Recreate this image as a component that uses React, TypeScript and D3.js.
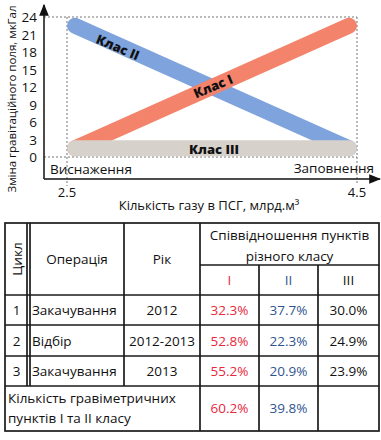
import React from "react";
import * as d3 from "d3";

const FONT = "'Open Sans', 'Noto Sans', sans-serif";

// Chart data
const xDomain = [2.5, 4.5];
const yTicks = [0, 3, 6, 9, 12, 15, 18, 21, 24];
const xTickLabels = ["2.5", "4.5"];
const bandNames = ["Клас II", "Клас I", "Клас III"];
const bandStartValues = [22.5, 1.5, 1.5];
const bandEndValues = [1.5, 22.5, 1.5];
const bandColors = ["#7fa3dc", "#f4836b", "#d6d1cb"];

// Table data
const cycles = ["1", "2", "3"];
const operations = ["Закачування", "Відбір", "Закачування"];
const years = ["2012", "2012-2013", "2013"];
const classI = ["32.3%", "52.8%", "55.2%"];
const classII = ["37.7%", "22.3%", "20.9%"];
const classIII = ["30.0%", "24.9%", "23.9%"];
const totalI = "60.2%";
const totalII = "39.8%";

export default function App() {
  const x = d3.scaleLinear().domain(xDomain).range([67, 357]);
  const y = d3.scaleLinear().domain([0, 24]).range([157, 17]);
  const sw = 16;
  const inset = sw / 2;
  const axisX = 44;
  const axisY = 179;
  const line = d3.line<[number, number]>();

  const labelPos = [
    { cx: 118, cy: 47 },
    { cx: 213, cy: 86 },
    { cx: 214, cy: 149 },
  ];

  // table geometry
  const tx = [5, 29, 124, 200, 259, 318, 379];
  const ty = [223, 265, 295, 325, 356, 386, 431];
  const red = "#e8283c";
  const blue = "#2f5590";
  const bc = "#1a1a1a";
  const bw = 1.7;

  return (
    <svg
      width={381}
      height={440}
      style={{ position: "absolute", left: 0, top: 0, fontFamily: FONT }}
    >
      <defs>
        <marker id="arr" viewBox="0 0 10 10" refX="9" refY="5" markerWidth="8" markerHeight="8" orient="auto">
          <path d="M0,1 L10,5 L0,9 z" fill="#111" />
        </marker>
      </defs>
      {/* dashed guides */}
      <g stroke="#777" strokeWidth={1} strokeDasharray="2,2" fill="none">
        <line x1={axisX} x2={x(4.5)} y1={y(24)} y2={y(24)} />
        <line x1={axisX} x2={x(4.5)} y1={y(0)} y2={y(0)} />
        <line x1={x(2.5)} x2={x(2.5)} y1={y(24)} y2={186} />
        <line x1={x(4.5)} x2={x(4.5)} y1={y(24)} y2={184} />
      </g>
      {/* bands */}
      {bandNames.map((n, i) => {
        const p: [number, number][] = [
          [x(xDomain[0]) + inset, y(bandStartValues[i])],
          [x(xDomain[1]) - inset, y(bandEndValues[i])],
        ];
        return (
          <path
            key={n}
            d={line(p) || ""}
            stroke={bandColors[i]}
            strokeWidth={sw}
            strokeLinecap="round"
            fill="none"
          />
        );
      })}
      {bandNames.map((n, i) => {
        const dx = x(xDomain[1]) - x(xDomain[0]);
        const dy = y(bandEndValues[i]) - y(bandStartValues[i]);
        const ang = (Math.atan2(dy, dx) * 180) / Math.PI;
        const { cx, cy } = labelPos[i];
        return (
          <text
            key={"l" + n}
            transform={`translate(${cx},${cy}) rotate(${ang})`}
            textAnchor="middle"
            dominantBaseline="central"
            fontSize={13}
            fontWeight={800}
            fill="#111"
          >
            {n}
          </text>
        );
      })}
      {/* axes */}
      <line x1={axisX} x2={axisX} y1={axisY} y2={5} stroke="#111" strokeWidth={1.5} markerEnd="url(#arr)" />
      <line x1={axisX} x2={380} y1={axisY} y2={axisY} stroke="#111" strokeWidth={1.5} markerEnd="url(#arr)" />
      {yTicks.map((t) => (
        <text key={t} x={37} y={y(t)} textAnchor="end" dominantBaseline="central" fontSize={13.5} fill="#111">
          {t}
        </text>
      ))}
      {xDomain.map((v, i) => (
        <text key={v} x={x(v)} y={192} textAnchor="middle" dominantBaseline="central" fontSize={13} fill="#111">
          {xTickLabels[i]}
        </text>
      ))}
      <text x={50} y={169} dominantBaseline="central" fontSize={13.5} fill="#111">Виснаження</text>
      <text x={374} y={168} textAnchor="end" dominantBaseline="central" fontSize={13.5} fill="#111">Заповнення</text>
      <text x={209} y={205} textAnchor="middle" dominantBaseline="central" fontSize={13} fill="#111">
        Кількість газу в ПСГ, млрд.м³
      </text>
      <text
        transform="translate(11,99) rotate(-90)"
        textAnchor="middle"
        dominantBaseline="central"
        fontSize={11.5}
        fill="#111"
      >
        Зміна гравітаційного поля, мкГал
      </text>

      {/* table */}
      <g stroke={bc} strokeWidth={bw} fill="none">
        <rect x={tx[0]} y={ty[0]} width={tx[6] - tx[0]} height={ty[6] - ty[0]} />
        <line x1={27} x2={27} y1={ty[0]} y2={ty[5]} />
        <line x1={30} x2={30} y1={ty[0]} y2={ty[5]} />
        <line x1={tx[2]} x2={tx[2]} y1={ty[0]} y2={ty[5]} />
        <line x1={tx[3]} x2={tx[3]} y1={ty[0]} y2={ty[6]} />
        <line x1={tx[4]} x2={tx[4]} y1={ty[1]} y2={ty[6]} />
        <line x1={tx[5]} x2={tx[5]} y1={ty[1]} y2={ty[6]} />
        <line x1={tx[3]} x2={tx[6]} y1={ty[1]} y2={ty[1]} />
        {[2, 3, 4, 5].map((r) => (
          <line key={r} x1={tx[0]} x2={tx[6]} y1={ty[r]} y2={ty[r]} />
        ))}
      </g>
      <g fontSize={13.5} fill="#111" dominantBaseline="central">
        <text transform={`translate(16.5,${(ty[0] + ty[2]) / 2}) rotate(-90)`} textAnchor="middle">Цикл</text>
        <text x={(30 + tx[2]) / 2} y={(ty[0] + ty[2]) / 2} textAnchor="middle">Операція</text>
        <text x={(tx[2] + tx[3]) / 2} y={(ty[0] + ty[2]) / 2} textAnchor="middle">Рік</text>
        <text x={(tx[3] + tx[6]) / 2} y={235} textAnchor="middle">Співвідношення пунктів</text>
        <text x={(tx[3] + tx[6]) / 2} y={256} textAnchor="middle">різного класу</text>
        <text x={(tx[3] + tx[4]) / 2} y={280} textAnchor="middle" fill={red}>I</text>
        <text x={(tx[4] + tx[5]) / 2} y={280} textAnchor="middle" fill={blue}>II</text>
        <text x={(tx[5] + tx[6]) / 2} y={280} textAnchor="middle">III</text>
        {cycles.map((c, i) => {
          const cy = (ty[i + 2] + ty[i + 3]) / 2;
          return (
            <g key={c}>
              <text x={16.5} y={cy} textAnchor="middle">{c}</text>
              <text x={32} y={cy}>{operations[i]}</text>
              <text x={(tx[2] + tx[3]) / 2} y={cy} textAnchor="middle">{years[i]}</text>
              <text x={(tx[3] + tx[4]) / 2} y={cy} textAnchor="middle" fill={red}>{classI[i]}</text>
              <text x={(tx[4] + tx[5]) / 2} y={cy} textAnchor="middle" fill={blue}>{classII[i]}</text>
              <text x={(tx[5] + tx[6]) / 2} y={cy} textAnchor="middle">{classIII[i]}</text>
            </g>
          );
        })}
        <text x={8} y={398}>Кількість гравіметричних</text>
        <text x={8} y={418}>пунктів I та II класу</text>
        <text x={(tx[3] + tx[4]) / 2} y={408} textAnchor="middle" fill={red}>{totalI}</text>
        <text x={(tx[4] + tx[5]) / 2} y={408} textAnchor="middle" fill={blue}>{totalII}</text>
      </g>
    </svg>
  );
}
